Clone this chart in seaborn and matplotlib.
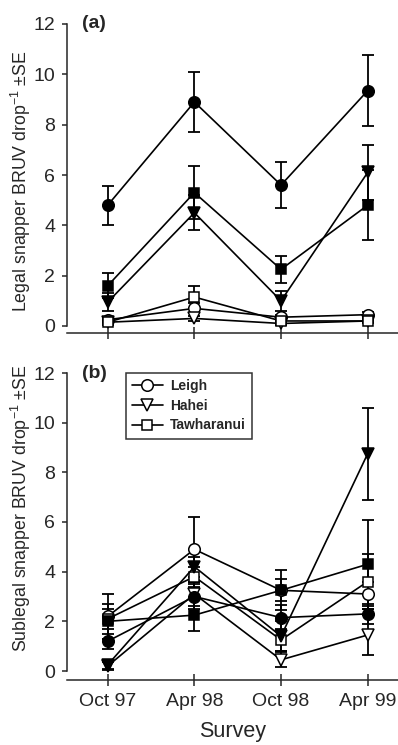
import numpy as np
import pandas as pd
import matplotlib
matplotlib.use("Agg")
import matplotlib.pyplot as plt
import seaborn as sns
from matplotlib.lines import Line2D

surveys = ["Oct 97", "Apr 98", "Oct 98", "Apr 99"]
sites = ["Leigh", "Hahei", "Tawharanui"]

# Panel (a): legal snapper; filled = first set, open = second set
legal_filled = {
    "Leigh": [4.8, 8.9, 5.6, 9.35],
    "Hahei": [0.95, 4.5, 1.0, 6.1],
    "Tawharanui": [1.6, 5.3, 2.25, 4.8],
}
legal_filled_se = {
    "Leigh": [0.77, 1.2, 0.9, 1.4],
    "Hahei": [0.35, 0.7, 0.4, 1.1],
    "Tawharanui": [0.5, 1.05, 0.55, 1.4],
}
legal_open = {
    "Leigh": [0.25, 0.7, 0.35, 0.45],
    "Hahei": [0.15, 0.3, 0.1, 0.2],
    "Tawharanui": [0.15, 1.15, 0.2, 0.2],
}
legal_open_se = {
    "Leigh": [0.1, 0.2, 0.1, 0.1],
    "Hahei": [0.05, 0.1, 0.05, 0.05],
    "Tawharanui": [0.1, 0.45, 0.1, 0.1],
}

# Panel (b): sublegal snapper
sub_filled = {
    "Leigh": [1.2, 3.0, 2.15, 2.3],
    "Hahei": [0.25, 4.2, 1.4, 8.75],
    "Tawharanui": [2.0, 2.25, 3.25, 4.3],
}
sub_filled_se = {
    "Leigh": [0.3, 0.5, 0.5, 0.4],
    "Hahei": [0.15, 0.4, 0.6, 1.85],
    "Tawharanui": [0.7, 0.65, 0.8, 1.8],
}
sub_open = {
    "Leigh": [2.2, 4.9, 3.25, 3.1],
    "Hahei": [0.2, 3.1, 0.45, 1.45],
    "Tawharanui": [2.1, 3.8, 1.25, 3.6],
}
sub_open_se = {
    "Leigh": [0.9, 1.3, 0.45, 0.5],
    "Hahei": [0.15, 0.5, 0.3, 0.8],
    "Tawharanui": [0.4, 0.4, 0.45, 1.1],
}

markers = {"Leigh": "o", "Hahei": "v", "Tawharanui": "s"}
msizes = {"Leigh": 8.3, "Hahei": 8.0, "Tawharanui": 7.2}

sns.set_style("ticks")
plt.rcParams["font.family"] = ["Liberation Sans", "DejaVu Sans"]
plt.rcParams["mathtext.fontset"] = "custom"
plt.rcParams["mathtext.rm"] = "Liberation Sans"
plt.rcParams["mathtext.it"] = "Liberation Sans:italic"
plt.rcParams["mathtext.bf"] = "Liberation Sans:bold"

fig = plt.figure(figsize=(3.98, 7.45), dpi=100)
W, H = 398.0, 745.0

def make_ax(top_px, zero_px, bottom_px):
    ax = fig.add_axes([67 / W, (H - bottom_px) / H, (398 - 67) / W, (bottom_px - top_px) / H])
    unit = (zero_px - top_px) / 12.0
    ax.set_ylim(-(bottom_px - zero_px) / unit, 12)
    ax.set_xlim(-0.47, 3.35)
    return ax

ax_a = make_ax(24, 326, 333)
ax_b = make_ax(373, 671, 680)

x = np.arange(len(surveys))

def draw(ax, open_d, open_se, filled_d, filled_se):
    for d, se, fc in [(open_d, open_se, "white"), (filled_d, filled_se, "black")]:
        for s in sites:
            df = pd.DataFrame({"survey": x, "value": d[s]})
            ax.errorbar(x, d[s], yerr=se[s], fmt="none", ecolor="black",
                        elinewidth=1.3, capsize=4.5, capthick=1.3, zorder=2, clip_on=False)
            sns.lineplot(data=df, x="survey", y="value", ax=ax, color="black",
                         marker=markers[s], markersize=msizes[s], markerfacecolor=fc,
                         markeredgecolor="black", markeredgewidth=1.1, linewidth=1.2,
                         zorder=3, clip_on=False, legend=False)

draw(ax_a, legal_open, legal_open_se, legal_filled, legal_filled_se)
draw(ax_b, sub_open, sub_open_se, sub_filled, sub_filled_se)

for ax in (ax_a, ax_b):
    sns.despine(ax=ax)
    ax.spines["left"].set_bounds(0, 12)
    ax.spines["left"].set_linewidth(1.1)
    ax.spines["bottom"].set_linewidth(1.1)
    ax.set_yticks([0, 2, 4, 6, 8, 10, 12])
    ax.set_xticks(x)
    ax.tick_params(axis="y", direction="out", length=3.5, width=1.1, labelsize=14, pad=5)
    ax.tick_params(axis="x", direction="inout", length=8, width=1.1, labelsize=14, pad=5)
    ax.set_xlabel("")

ax_a.set_xticklabels([])
ax_b.set_xticklabels(surveys)
ax_a.set_ylabel("Legal snapper BRUV drop$^{-1}$ \u00b1SE", fontsize=12.8)
ax_b.set_ylabel("Sublegal snapper BRUV drop$^{-1}$ \u00b1SE", fontsize=12.8)
ax_a.yaxis.set_label_coords(-0.103, (333 - 181) / 309)
ax_b.yaxis.set_label_coords(-0.103, (680 - 508) / 307)
ax_b.set_xlabel("Survey", fontsize=15.5, labelpad=8)

ax_a.text(0.045, 1.0, "(a)", transform=ax_a.transAxes, fontsize=14, fontweight="bold",
          va="center", ha="left")
ax_b.text(0.045, 1.0, "(b)", transform=ax_b.transAxes, fontsize=14, fontweight="bold",
          va="center", ha="left")

handles = [Line2D([0], [0], color="black", lw=1.2, marker=markers[s], markersize=msizes[s],
                  markerfacecolor="white", markeredgecolor="black", markeredgewidth=1.1)
           for s in sites]
leg = ax_b.legend(handles, sites, loc="upper left", bbox_to_anchor=(0.178, 1.0),
                  borderaxespad=0, frameon=True, fancybox=False, edgecolor="black",
                  prop={"weight": "bold", "size": 10}, handlelength=2.2, labelspacing=0.4,
                  handletextpad=0.5, borderpad=0.45)
leg.get_frame().set_linewidth(1.1)

fig.savefig("out.png", dpi=100)
